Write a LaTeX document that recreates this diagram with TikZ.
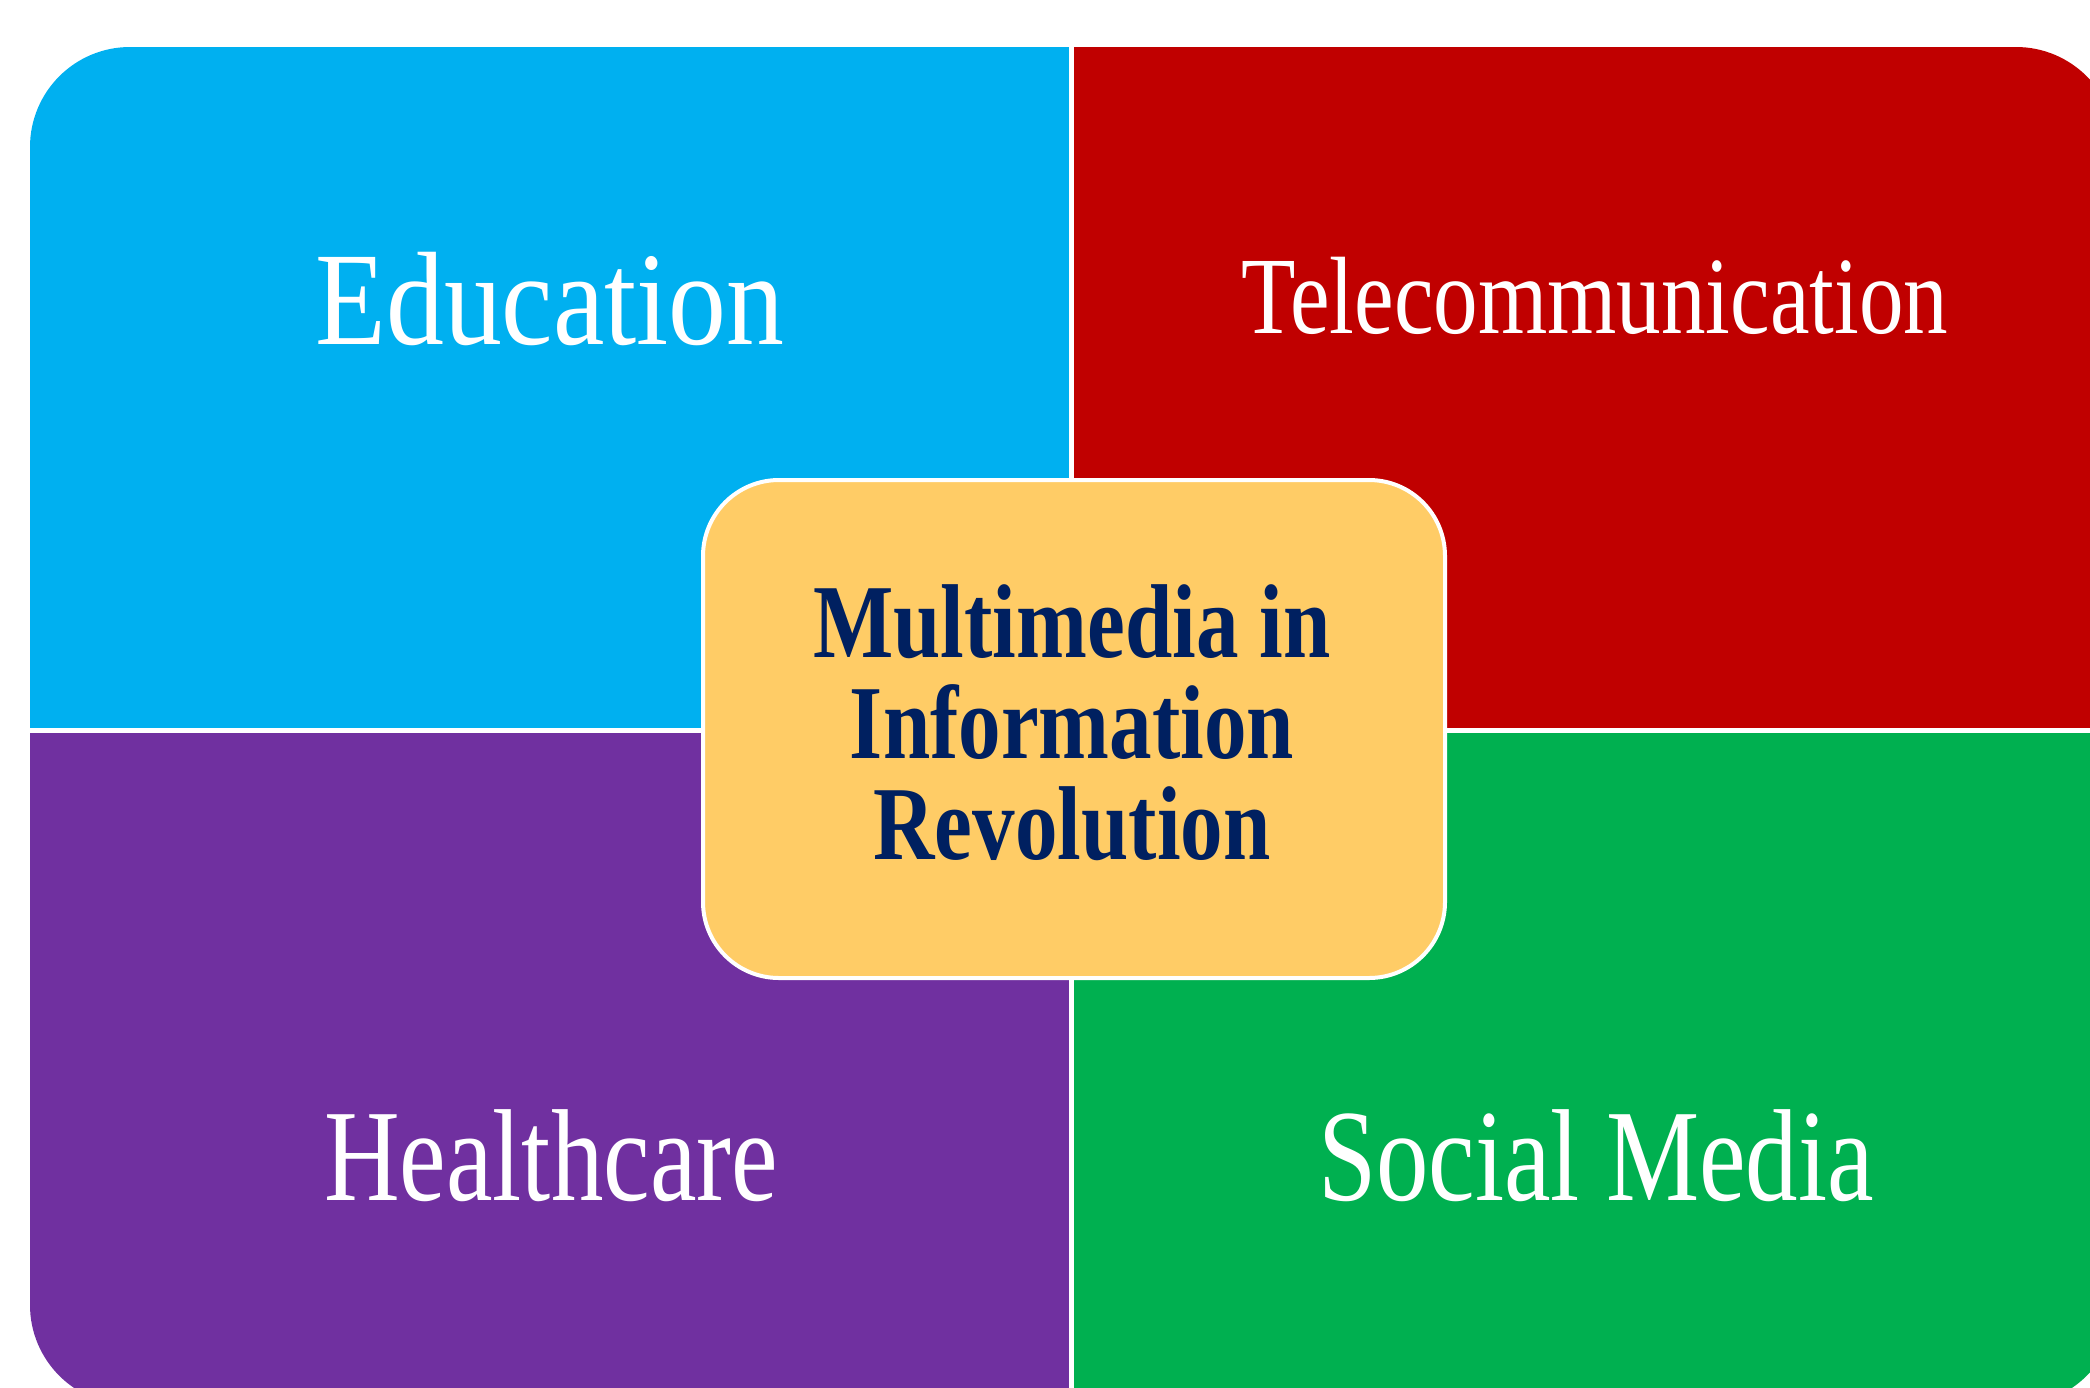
\documentclass[tikz,border=0pt]{standalone}
\usepackage{fontspec}
\setmainfont{Liberation Serif}
\newfontfamily\edufont[FakeStretch=0.87]{Liberation Serif}
\newfontfamily\labfont[FakeStretch=0.80]{Liberation Serif}
\newfontfamily\telfont[FakeStretch=0.81]{Liberation Serif}
\newfontfamily\corefont[FakeStretch=0.81]{Liberation Serif}
\definecolor{edublue}{HTML}{00B0F0}
\definecolor{telred}{HTML}{C00000}
\definecolor{healthpurple}{HTML}{7030A0}
\definecolor{socgreen}{HTML}{00B050}
\definecolor{coreorange}{HTML}{FFCC66}
\definecolor{corenavy}{HTML}{002060}
\begin{document}
\begin{tikzpicture}[x=1pt,y=-1pt,
  quadlabel/.style={text=white, inner sep=0pt, anchor=base},
  corebox/.style={draw=white, line width=4pt, fill=coreorange, rounded corners=76pt,
    minimum width=742pt, minimum height=498pt, inner sep=0pt},
  coretext/.style={text=corenavy, inner sep=0pt, anchor=base, align=center,
    font=\corefont\bfseries\fontsize{105}{101}\selectfont}]
\useasboundingbox (0,0) rectangle (2090,1387);
\clip (0,0) rectangle (2090,1387);
\begin{scope}
  \clip[rounded corners=100pt] (30,47) rectangle (2116,1405);
  \fill[edublue] (30,47) rectangle (1071,730);
  \fill[telred] (1071,47) rectangle (2116,730);
  \fill[healthpurple] (30,730) rectangle (1071,1405);
  \fill[socgreen] (1071,730) rectangle (2116,1405);
\end{scope}
\coordinate (vtop) at (1071,40);
\coordinate (vbot) at (1071,1400);
\coordinate (hleft) at (20,730);
\coordinate (hright) at (2116,730);
\draw[white, line width=5pt] (vtop) -- (vbot);
\draw[white, line width=5pt] (hleft) -- (hright);
\node[quadlabel, font=\edufont\fontsize{133}{133}\selectfont] (edu) at (550,344) {Education};
\node[quadlabel, font=\telfont\fontsize{110}{110}\selectfont] (tel) at (1595,333) {Telecommunication};
\node[quadlabel, font=\labfont\fontsize{131}{131}\selectfont] (health) at (551,1200) {Healthcare};
\node[quadlabel, font=\labfont\fontsize{131}{131}\selectfont] (social) at (1596,1200) {Social Media};
\node[corebox] (core) at (1074,729) {};
\node[coretext] (coretxt) at (1072,859) {Multimedia in\\Information\\Revolution};
\end{tikzpicture}
\end{document}
